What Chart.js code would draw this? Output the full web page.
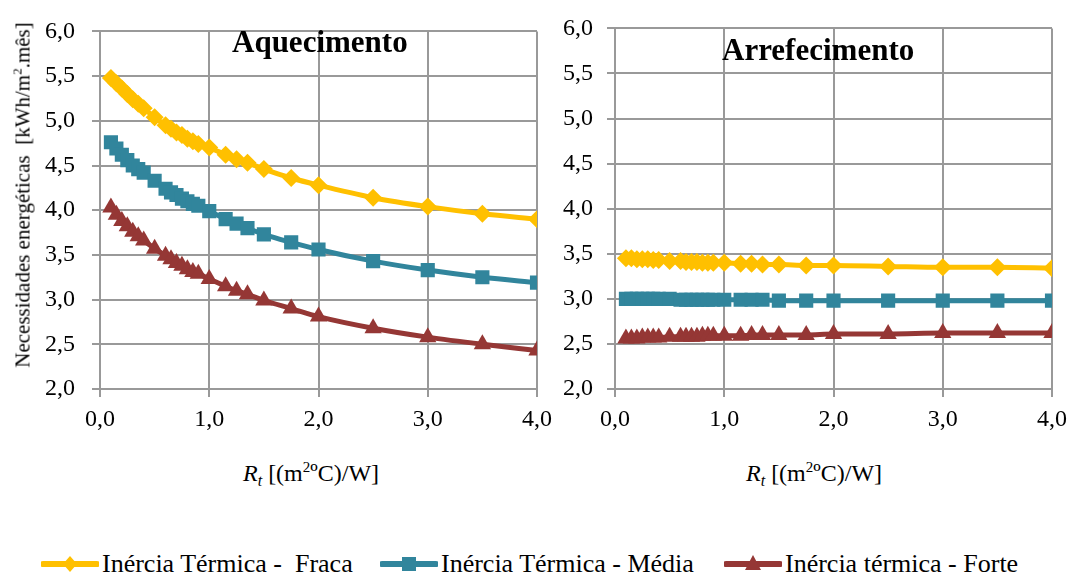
<!DOCTYPE html>
<html>
<head>
<meta charset="utf-8">
<script src="https://cdn.jsdelivr.net/npm/chart.js@4"></script>
<style>
body{margin:0;background:#fff;width:1075px;height:574px;position:relative;overflow:hidden;font-family:'Liberation Serif','Times New Roman',Tinos,serif;color:#000}
canvas{position:absolute;top:0}
#c1{left:0}
#c2{left:560px}
.t{position:absolute;white-space:nowrap;line-height:1}
.ttl{font-size:31px;font-weight:bold}
.xt{font-size:24px}
.xt sup{font-size:15px;vertical-align:9px;line-height:0}
.xt sub{font-size:16px;vertical-align:-5px;line-height:0}
#ytitle{left:23px;top:195px;font-size:21px;transform:translate(-50%,-50%) rotate(-90deg)}
#ytitle sup{font-size:13px;vertical-align:8px;line-height:0}
.leg{position:absolute;top:549px;height:30px;display:flex;align-items:center;font-size:26px;white-space:nowrap;font-family:'Liberation Serif','Times New Roman',serif}
.leg svg{margin-right:3px}
</style>
</head>
<body>
<canvas id="c1" width="560" height="450"></canvas>
<canvas id="c2" width="515" height="450"></canvas>

<div class="t ttl" style="left:232px;top:26px">Aquecimento</div>
<div class="t ttl" style="left:722px;top:34px">Arrefecimento</div>
<div class="t" id="ytitle">Necessidades energéticas&nbsp; [kWh/m<sup>2</sup>.mês]</div>
<div class="t xt" style="left:243px;top:461px"><i>R</i><sub><i>t</i></sub> [(m<sup>2</sup>ºC)/W]</div>
<div class="t xt" style="left:746px;top:461px"><i>R</i><sub><i>t</i></sub> [(m<sup>2</sup>ºC)/W]</div>

<div class="leg" style="left:41px">
<svg width="58" height="24"><line x1="2" y1="12" x2="56" y2="12" stroke="#FFC000" stroke-width="6" stroke-linecap="round"/><polygon points="29,4 36,12 29,20 22,12" fill="#FFC000"/></svg>Inércia Térmica -&nbsp; Fraca</div>
<div class="leg" style="left:380px">
<svg width="58" height="24"><line x1="2" y1="12" x2="56" y2="12" stroke="#31859C" stroke-width="6" stroke-linecap="round"/><rect x="22" y="5" width="14" height="14" fill="#31859C"/></svg>Inércia Térmica - Média</div>
<div class="leg" style="left:724px">
<svg width="58" height="24"><line x1="2" y1="12" x2="56" y2="12" stroke="#953735" stroke-width="6" stroke-linecap="round"/><polygon points="29,3 37,18 21,18" fill="#953735"/></svg>Inércia térmica - Forte</div>

<script>
// resistencia termica Rt
var rt = [0.1,0.15,0.2,0.25,0.3,0.35,0.4,0.5,0.6,0.65,0.7,0.75,0.8,0.85,0.9,1.0,1.15,1.25,1.35,1.5,1.75,2.0,2.5,3.0,3.5,4.0]

// aquecimento
var aqFraca = [5.48,5.42,5.36,5.30,5.24,5.19,5.14,5.04,4.95,4.91,4.87,4.84,4.80,4.77,4.74,4.70,4.62,4.57,4.53,4.46,4.36,4.28,4.14,4.04,3.96,3.90]
var aqMedia = [4.76,4.69,4.62,4.56,4.50,4.46,4.42,4.33,4.24,4.20,4.17,4.13,4.10,4.07,4.05,3.99,3.90,3.85,3.80,3.73,3.64,3.56,3.43,3.33,3.25,3.19]
var aqForte = [4.03,3.95,3.88,3.82,3.76,3.71,3.66,3.57,3.49,3.45,3.41,3.38,3.34,3.31,3.29,3.23,3.15,3.10,3.06,2.99,2.90,2.81,2.68,2.58,2.50,2.43]

// arrefecimento
var arFraca = [3.45,3.45,3.44,3.44,3.44,3.43,3.43,3.42,3.42,3.41,3.41,3.41,3.40,3.40,3.40,3.40,3.39,3.39,3.38,3.38,3.37,3.37,3.36,3.35,3.35,3.34]
var arMedia = [3.00,3.00,3.00,3.00,3.00,3.00,3.00,3.00,2.99,2.99,2.99,2.99,2.99,2.99,2.99,2.99,2.99,2.99,2.99,2.98,2.98,2.98,2.98,2.98,2.98,2.98]
var arForte = [2.56,2.56,2.56,2.57,2.57,2.57,2.57,2.58,2.58,2.58,2.58,2.58,2.59,2.59,2.59,2.59,2.59,2.60,2.60,2.60,2.60,2.61,2.61,2.62,2.62,2.62]

var xTicks = [0,1,2,3,4]
var yTicks = [2,2.5,3,3.5,4,4.5,5,5.5,6]

var gridCol = '#999999'
var tickFont = {family: "'Liberation Serif', 'Times New Roman', serif", size: 24}

function pts(ys){
    return rt.map((x,i)=>({x: x, y: ys[i]}))
}
function virg(v){
    return Number(v).toFixed(1).replace('.', ',')
}

function serie(label, ys, cor, estilo, raio){
    return {
        label: label,
        data: pts(ys),
        borderColor: cor,
        backgroundColor: cor,
        borderWidth: 5,
        pointStyle: estilo,
        pointRadius: raio,
        pointHoverRadius: raio,
        pointBorderWidth: 0,
        cubicInterpolationMode: 'monotone'
    }
}

function grafico(id, fr, me, fo, largY, padY, padRight){
    new Chart(document.getElementById(id), {
        type: 'line',
        data: {
            datasets: [
                serie('Inércia Térmica -  Fraca', fr, '#FFC000', 'rectRot', 9),
                serie('Inércia Térmica - Média', me, '#31859C', 'rect', 10),
                serie('Inércia térmica - Forte', fo, '#953735', 'triangle', 10)
            ]
        },
        options: {
            responsive: false,
            animation: false,
            devicePixelRatio: 1,
            layout: {padding: {left: 0, top: 23, right: padRight, bottom: 0}},
            plugins: {legend: {display: false}, tooltip: {enabled: false}},
            scales: {
                x: {
                    type: 'linear', min: 0, max: 4,
                    afterBuildTicks: s => { s.ticks = xTicks.map(v => ({value: v})) },
                    afterFit: s => { s.height = 61 },
                    grid: {color: gridCol, lineWidth: 2, tickLength: 8},
                    border: {color: gridCol, width: 2},
                    ticks: {font: tickFont, color: '#000', padding: 8, maxRotation: 0, callback: virg}
                },
                y: {
                    min: 2, max: 6,
                    afterBuildTicks: s => { s.ticks = yTicks.map(v => ({value: v})) },
                    afterFit: s => { s.width = largY },
                    grid: {color: gridCol, lineWidth: 2, tickLength: 8},
                    border: {color: gridCol, width: 2},
                    ticks: {font: tickFont, color: '#000', padding: padY, callback: virg}
                }
            }
        }
    })
}

grafico('c1', aqFraca, aqMedia, aqForte, 100, 17, 23)
grafico('c2', arFraca, arMedia, arForte, 55, 14, 20)
</script>
</body>
</html>
